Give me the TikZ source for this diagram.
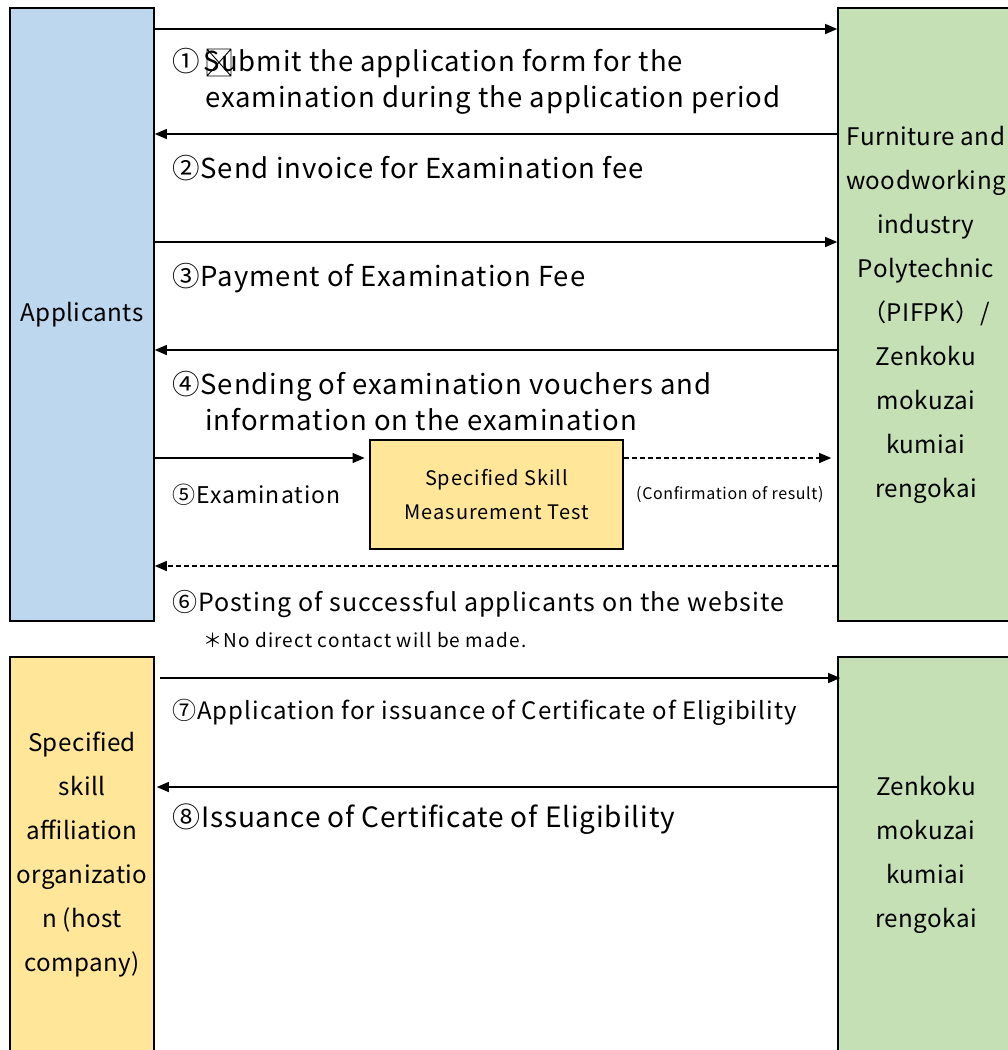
\documentclass[tikz,border=0pt]{standalone}
\usepackage{fontspec}
\setmainfont{Noto Sans CJK JP}
\usetikzlibrary{arrows.meta}
\definecolor{appblue}{HTML}{BDD7EE}
\definecolor{orggreen}{HTML}{C5E0B4}
\definecolor{hostyellow}{HTML}{FFE699}
\newcommand{\fsz}[3]{\fontsize{#1}{#2}\selectfont\addfontfeatures{LetterSpace=#3}}
\begin{document}
\begin{tikzpicture}[x=1pt,y=-1pt,
  party/.style={draw=black,line width=1.6pt,align=center,inner sep=0pt,
    font=\fsz{24.2}{44}{1.8}},
  testbox/.style={draw=black,line width=2.8pt,fill=hostyellow,align=center,
    minimum width=253pt,minimum height=109pt,inner sep=0pt,font=\fsz{20}{34}{5}},
  flow/.style={line width=1.2pt,-{Triangle[length=12pt,width=10pt]}},
  dflow/.style={flow,dash pattern=on 5pt off 3pt},
  lbl/.style={anchor=mid west,inner sep=0pt,font=\fsz{27.5}{32}{3.5}}]
\useasboundingbox (0,0) rectangle (1008,1050);
\clip (0,0) rectangle (1008,1050);
\fill[white] (0,0) rectangle (1008,1050);
% parties
\node[party,fill=appblue,minimum width=144pt,minimum height=613pt] (app) at (82,314.5) {Applicants};
\node[party,fill=orggreen,minimum width=176pt,minimum height=613pt] (org) at (926,314.5)
  {Furniture and\\woodworking\\industry\\Polytechnic\\（PIFPK）/\\Zenkoku\\mokuzai\\kumiai\\rengokai};
\node[party,fill=hostyellow,minimum width=144pt,minimum height=395pt] (host) at (82,854.5)
  {Specified\\skill\\affiliation\\organizatio\\n (host\\company)};
\node[party,fill=orggreen,minimum width=176pt,minimum height=395pt] (zen) at (926,854.5)
  {Zenkoku\\mokuzai\\kumiai\\rengokai};
\node[testbox] (test) at (496.5,494.5) {Specified Skill\\Measurement Test};
% arrows
\draw[flow] (app.east |- 0,29) -- (org.west |- 0,29);
\draw[flow] (org.west |- 0,134) -- (app.east |- 0,134);
\draw[flow] (app.east |- 0,242) -- (org.west |- 0,242);
\draw[flow] (org.west |- 0,350) -- (app.east |- 0,350);
\draw[flow,shorten >=4pt] (app.east |- 0,458) -- (test.west |- 0,458);
\draw[dflow,shorten >=6pt] (test.east |- 0,458) -- (org.west |- 0,458);
\draw[dflow] (org.west |- 0,566) -- (app.east |- 0,566);
\draw[flow,shorten <=5pt,shorten >=-3pt] (host.east |- 0,678) -- (zen.west |- 0,678);
\draw[flow,shorten >=2pt] (zen.west |- 0,787) -- (host.east |- 0,787);
% labels
\node[lbl] (l1a) at (172,69) {①\kern4pt Submit the application form for the};
\draw[line width=0.9pt] (207,49) rectangle (231,76) (207,49) -- (231,76) (231,49) -- (207,76);
\node[lbl] (l1b) at (205,105) {examination during the application period};
\node[lbl] (l2) at (172,176) {②Send invoice for Examination fee};
\node[lbl] (l3) at (172,284) {③Payment of Examination Fee};
\node[lbl] (l4a) at (172,392) {④Sending of examination vouchers and};
\node[lbl] (l4b) at (205,428) {information on the examination};
\node[lbl,font=\fsz{23}{28}{4.5}] (l5) at (172,501) {⑤Examination};
\node[lbl,font=\fsz{16}{20}{4}] (lc) at (636,497) {(Confirmation of result)};
\node[lbl,font=\fsz{25}{30}{4.2}] (l6) at (172,609) {⑥Posting of successful applicants on the website};
\node[lbl,font=\fsz{19}{22}{6.2}] (ln) at (203,645) {＊No direct contact will be made.};
\node[lbl,font=\fsz{24}{28}{4.3}] (l7) at (172,717) {⑦Application for issuance of Certificate of Eligibility};
\node[lbl,font=\fsz{28}{32}{3.1}] (l8) at (172,825) {⑧Issuance of Certificate of Eligibility};
\end{tikzpicture}
\end{document}
